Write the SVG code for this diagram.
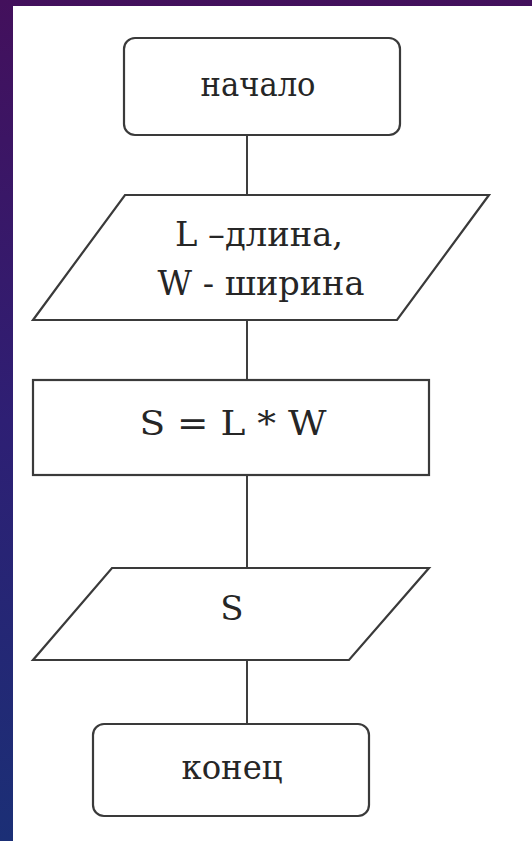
<svg xmlns="http://www.w3.org/2000/svg" width="532" height="841" viewBox="0 0 532 841">
<defs>
<linearGradient id="bg" x1="0" y1="0" x2="0" y2="1">
<stop offset="0" stop-color="#43105c"/>
<stop offset="0.5" stop-color="#2e1f74"/>
<stop offset="1" stop-color="#1b2f76"/>
</linearGradient>
<style>
.sh{fill:#ffffff;stroke:#3a3a3a;stroke-width:2.2}
.ln{stroke:#2a2a2a;stroke-width:1.8;fill:none}
.tx{font-family:"DejaVu Serif","Liberation Serif",serif;font-size:34px;fill:#262626;text-anchor:middle}
</style>
</defs>
<rect x="0" y="0" width="532" height="841" fill="url(#bg)"/>
<rect x="13" y="6" width="519" height="835" fill="#ffffff"/>
<g id="connectors">
<line class="ln" x1="247" y1="135" x2="247" y2="195"/>
<line class="ln" x1="247" y1="320" x2="247" y2="380"/>
<line class="ln" x1="247" y1="475" x2="247" y2="568"/>
<line class="ln" x1="247" y1="660" x2="247" y2="724"/>
</g>
<g id="start">
<rect class="sh" x="124" y="38" width="276" height="97" rx="11"/>
<text class="tx" x="258" y="96" textLength="115" lengthAdjust="spacingAndGlyphs">начало</text>
</g>
<g id="input">
<polygon class="sh" points="125,195 489,195 397,320 33,320"/>
<text class="tx" x="259" y="246" textLength="168" lengthAdjust="spacingAndGlyphs">L –длина,</text>
<text class="tx" x="261" y="295" textLength="207" lengthAdjust="spacingAndGlyphs">W - ширина</text>
</g>
<g id="process">
<rect class="sh" x="33" y="380" width="396" height="95"/>
<text class="tx" x="233" y="435" textLength="187" lengthAdjust="spacingAndGlyphs">S = L * W</text>
</g>
<g id="output">
<polygon class="sh" points="112,568 429,568 349,660 33,660"/>
<text class="tx" x="232" y="620">S</text>
</g>
<g id="end">
<rect class="sh" x="93" y="724" width="276" height="92" rx="11"/>
<text class="tx" x="232" y="779" textLength="101" lengthAdjust="spacingAndGlyphs">конец</text>
</g>
</svg>
